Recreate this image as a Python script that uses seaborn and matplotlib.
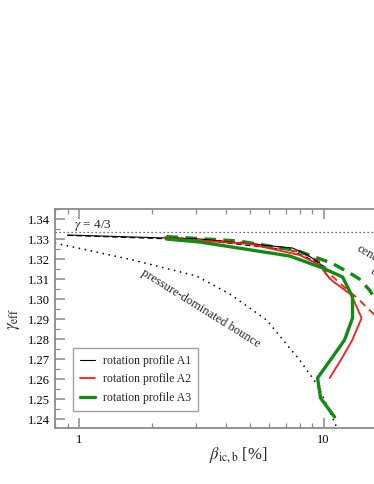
import matplotlib
matplotlib.use("Agg")
import matplotlib.pyplot as plt
from matplotlib.ticker import FixedLocator, LogLocator, MultipleLocator, FuncFormatter, NullFormatter
import pandas as pd
import seaborn as sns

# values: x = beta_ic,b [%], y = gamma_eff
a1_x = [0.90, 3.12, 7.47, 8.60, 9.63, 10.6]
a1_y = [1.332, 1.330, 1.3255, 1.322, 1.318, 1.310]
a1_dash_x = [0.90, 3.1, 7.3, 9.4, 10.3]
a1_dash_y = [1.3318, 1.3295, 1.3245, 1.3185, 1.3155]

a2_x = [2.24, 4.99, 7.98, 9.63, 10.3, 10.88, 13.0, 14.3, 13.1, 11.96, 10.6]
a2_y = [1.3305, 1.3275, 1.322, 1.317, 1.312, 1.309, 1.302, 1.2905, 1.2795, 1.271, 1.2605]
a2_dash_x = [2.24, 5.0, 7.98, 9.6, 10.6, 12.8, 13.6, 15.85, 18.6]
a2_dash_y = [1.331, 1.328, 1.3235, 1.319, 1.3125, 1.3035, 1.301, 1.293, 1.2845]

a3_x = [2.28, 3.12, 7.27, 9.91, 11.96, 13.13, 13.13, 12.18, 10.88, 9.45, 9.72, 11.09]
a3_y = [1.330, 1.3285, 1.3215, 1.3155, 1.311, 1.301, 1.2905, 1.2795, 1.271, 1.2605, 1.2505, 1.241]
a3_dash_x = [2.28, 4.5, 7.8, 10.77, 12.8, 14.0, 15.4, 16.9, 19.5]
a3_dash_y = [1.3312, 1.329, 1.3242, 1.318, 1.313, 1.310, 1.3045, 1.297, 1.287]

# pressure-dominated bounce estimate (dotted)
press_x = [0.798, 1.662, 3.03, 4.14, 5.85, 7.27, 7.98, 9.45, 10.3, 11.3]
press_y = [1.328, 1.3195, 1.3115, 1.3025, 1.2895, 1.2755, 1.2695, 1.257, 1.247, 1.236]

gamma_ref = 4.0 / 3.0
x_ticks = [1, 10]

sns.set_style("ticks")
plt.rcParams['font.family'] = ['Liberation Serif', 'DejaVu Serif']
plt.rcParams['mathtext.fontset'] = 'stix'

fig = plt.figure(figsize=(3.74, 4.84), dpi=100)
ax = fig.add_axes([55 / 374, 56 / 484, 366 / 374, 219 / 484])

ax.axhline(gamma_ref, color="#2b2bff", lw=0.9, ls=(0, (1, 2.2)))
sns.lineplot(x=press_x, y=press_y, sort=False, estimator=None, color="black",
             lw=1.1, ls=(0, (1, 3)), ax=ax)

series = [
    (a1_dash_x, a1_dash_y, "black", 0.8, (0, (5, 3)), None),
    (a2_dash_x, a2_dash_y, "#ff1a1a", 1.3, (0, (4, 3)), None),
    (a3_dash_x, a3_dash_y, "#138a13", 2.4, (0, (3.5, 2.2)), None),
    (a1_x, a1_y, "black", 0.8, "-", "rotation profile A1"),
    (a2_x, a2_y, "#ff1a1a", 1.3, "-", "rotation profile A2"),
    (a3_x, a3_y, "#138a13", 2.4, "-", "rotation profile A3"),
]
handles = []
for xs, ys, col, lw, ls, lab in series:
    df = pd.DataFrame({"beta": xs, "gamma": ys})
    n = len(ax.lines)
    sns.lineplot(data=df, x="beta", y="gamma", sort=False, estimator=None,
                 color=col, lw=lw, ls=ls, ax=ax)
    if lab:
        line = ax.lines[n]
        line.set_label(lab)
        handles.append(line)

ax.set_xscale("log")
ax.set_xlim(0.8, 25)
ax.set_ylim(1.2355, 1.345)
ax.xaxis.set_major_locator(FixedLocator(x_ticks))
ax.xaxis.set_major_formatter(FuncFormatter(lambda v, p: f"{v:g}"))
ax.xaxis.set_minor_locator(LogLocator(base=10, subs=[2, 3, 4, 5, 6, 7, 8, 9]))
ax.xaxis.set_minor_formatter(NullFormatter())
ax.yaxis.set_major_locator(MultipleLocator(0.01))
ax.yaxis.set_minor_locator(MultipleLocator(0.005))
ax.yaxis.set_major_formatter(FuncFormatter(lambda v, p: f"{v:.2f}"))

for s in ax.spines.values():
    s.set_color("#8a8a8a")
    s.set_linewidth(1.3)
ax.tick_params(which="both", direction="in", top=True, right=True,
               color="#8a8a8a", labelsize=9, labelcolor="black")
ax.tick_params(which="major", length=7, width=1.1)
ax.tick_params(which="minor", length=3.5, width=0.9)
ax.tick_params(axis="x", pad=4)

ax.set_xlabel(r"$\beta_{\mathrm{ic,b}}$ [%]", fontsize=12, labelpad=0)
ax.set_ylabel(r"$\gamma_{\mathrm{eff}}$", fontsize=12, labelpad=4)

ax.text(0.954, 1.3357, r"$\gamma$ = 4/3", fontsize=9.5, ha="left", va="baseline")
ax.text(3.15, 1.2955, "pressure-dominated bounce", fontsize=9, rotation=-32,
        ha="center", va="center", rotation_mode="anchor")
# these run past the right edge of the figure, as in the reference
ax.text(13.8, 1.3255, "centrifugal", fontsize=9, rotation=-30, ha="left",
        va="center", rotation_mode="anchor")
ax.text(15.7, 1.3145, "bounce", fontsize=9, rotation=-30, ha="left",
        va="center", rotation_mode="anchor")

leg = ax.legend(handles=handles, loc="lower left", bbox_to_anchor=(0.05, 0.078),
                borderaxespad=0, fontsize=8.5, handlelength=1.2, handletextpad=0.7,
                labelspacing=0.55, frameon=True, fancybox=False, borderpad=0.6)
leg.get_frame().set_edgecolor("#8a8a8a")
leg.get_frame().set_linewidth(1.0)

fig.savefig("out.png", dpi=100)
